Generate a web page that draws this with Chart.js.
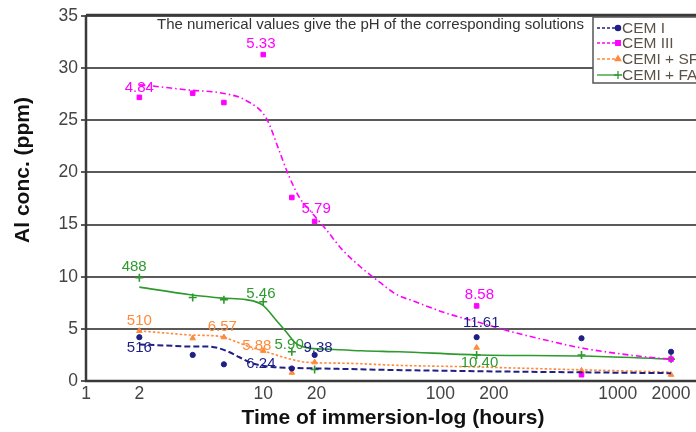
<!DOCTYPE html>
<html><head><meta charset="utf-8">
<script src="https://cdn.jsdelivr.net/npm/chart.js@4/dist/chart.umd.min.js"></script>
<style>
html,body{margin:0;padding:0;background:#fff;overflow:hidden;width:696px;height:432px}
#wrap{position:relative;width:760px;height:432px}
</style></head><body>
<div id="wrap"><canvas id="c" width="760" height="432"></canvas></div>
<script>
// ---- data ----
const seriesNames = ['CEM I', 'CEM III', 'CEMI + SF', 'CEMI + FA'];
const sampleHours = [2, 4, 6, 10, 14.5, 19.5, 160, 625, 2000];
const cemI   = [4.2, 2.5, 1.6, null, 1.2, 2.5, 4.2, 4.1, 2.8];
const cemIII = [27.2, 27.6, 26.7, 31.3, 17.6, 15.3, 7.2, 0.6, 2.1];
const cemSF  = [4.8, 4.1, 4.2, 2.9, 0.8, 1.8, 3.2, 1.0, 0.6];
const cemFA  = [9.9, 8.0, 7.8, 7.6, 2.8, 1.1, 2.5, 2.5, 2.1];

// fitted trend curves
const fitIHours   = [2, 2.83, 3.97, 4.95, 6.17, 7.3, 8.66, 11.2, 15.3, 20.7, 29.4, 56.4, 255, 2000];
const fitIValues  = [3.5, 3.4, 3.3, 3.3, 2.9, 2.3, 1.7, 1.35, 1.25, 1.2, 1.15, 1.05, 0.9, 0.75];
const fitIIIHours = [2, 2.33, 3.8, 5.9, 8, 10.4, 12.3, 13.7, 16, 18.9, 22.7, 27.9, 36.2, 45.2, 56.4, 69.5, 108, 166, 255, 397, 610, 937, 1460, 2000];
const fitIIIValues= [28.4, 28.3, 27.9, 27.6, 26.9, 25.2, 22.1, 20.0, 17.6, 16.1, 14.5, 12.6, 10.8, 9.5, 8.3, 7.7, 6.5, 5.6, 4.7, 3.9, 3.2, 2.7, 2.3, 2.1];
const fitSFHours  = [2, 2.83, 3.97, 5.6, 6.7, 8.0, 10.4, 13.5, 17.5, 29.4, 58, 160, 255, 2000];
const fitSFValues = [4.8, 4.6, 4.4, 4.3, 3.9, 3.4, 2.8, 2.2, 1.8, 1.7, 1.5, 1.35, 1.25, 0.85];
const fitFAHours  = [2, 3.8, 5.9, 8.0, 9.9, 11.8, 13.5, 15.3, 17.5, 23.6, 36.2, 58.6, 166, 625, 2000];
const fitFAValues = [9.0, 8.3, 7.95, 7.8, 7.3, 5.85, 4.7, 3.6, 3.2, 3.05, 2.9, 2.8, 2.5, 2.4, 2.1];

// pH labels: [hours, value, text, series index]
const phLabels = [
  [2, 28.1, '4.84', 1], [9.7, 32.3, '5.33', 1], [19.9, 16.5, '5.79', 1], [166, 8.25, '8.58', 1],
  [2, 3.15, '516', 0], [9.7, 1.6, '6.24', 0], [20.4, 3.15, '9.38', 0], [170, 5.55, '11.61', 0],
  [2, 5.75, '510', 2], [5.87, 5.2, '6.57', 2], [9.2, 3.35, '5.88', 2],
  [1.87, 10.9, '488', 3], [9.7, 8.35, '5.46', 3], [14.0, 3.45, '5.90', 3], [166, 1.7, '10.40', 3]
];

const xTicks = [1, 2, 10, 20, 100, 200, 1000, 2000];
const yTicks = [0, 5, 10, 15, 20, 25, 30, 35];
const note = 'The numerical values give the pH of the corresponding solutions';
const xTitle = 'Time of immersion-log (hours)';
const yTitle = 'Al conc. (ppm)';

// ---- styles ----
const colors = ['#1f1f85', '#ff00ff', '#ff8a3a', '#2e9a2e'];
const dashes = [[6, 3], [6, 3, 1.5, 3], [2.5, 2], []];
const widths = [2, 1.6, 1.6, 1.6];
const pStyles = ['circle', 'rect', 'triangle', 'cross'];
const pRadius = [2.6, 3.2, 3.2, 4];
const FONT = "'Liberation Sans', Arial, Helvetica, sans-serif";

const pts = (hs, vs) => hs.map((h, i) => ({x: h, y: vs[i]})).filter(p => p.y !== null);
const fits = [[fitIHours, fitIValues], [fitIIIHours, fitIIIValues], [fitSFHours, fitSFValues], [fitFAHours, fitFAValues]];
const raw = [cemI, cemIII, cemSF, cemFA];

const datasets = [];
fits.forEach((f, i) => datasets.push({
  label: seriesNames[i] + ' fit', data: pts(f[0], f[1]), showLine: true, pointRadius: 0,
  borderColor: colors[i], borderDash: dashes[i], borderWidth: widths[i], cubicInterpolationMode: 'monotone', fill: false
}));
raw.forEach((v, i) => datasets.push({
  label: seriesNames[i], data: pts(sampleHours, v), showLine: false,
  pointStyle: pStyles[i], pointRadius: pRadius[i], backgroundColor: colors[i], borderColor: colors[i], borderWidth: i === 3 ? 1.6 : 1
}));

const deco = {
  id: 'deco',
  beforeDatasetsDraw(chart) {
    const {ctx, chartArea: a} = chart;
    ctx.save();
    ctx.strokeStyle = '#3a3a3a';
    ctx.lineWidth = 2.5;
    ctx.beginPath();
    ctx.moveTo(a.left, a.top - 1); ctx.lineTo(a.right, a.top - 1);
    ctx.moveTo(a.left, a.top - 1); ctx.lineTo(a.left, a.bottom);
    ctx.lineTo(a.right, a.bottom);
    ctx.stroke();
    ctx.restore();
  },
  afterDatasetsDraw(chart) {
    const {ctx, chartArea: a, scales: {x, y}} = chart;
    ctx.save();
    // note
    ctx.fillStyle = '#333';
    ctx.font = '15px ' + FONT;
    ctx.textAlign = 'left'; ctx.textBaseline = 'middle';
    ctx.fillText(note, 157, a.top + 9);
    // pH labels
    ctx.font = '15px ' + FONT;
    ctx.textAlign = 'center';
    phLabels.forEach(([h, v, t, s]) => {
      ctx.fillStyle = colors[s];
      ctx.fillText(t, x.getPixelForValue(h), y.getPixelForValue(v));
    });
    // legend
    const lx = 593, ly = a.top + 1, lh = 66;
    ctx.fillStyle = '#fff';
    ctx.fillRect(lx, ly, 200, lh);
    ctx.strokeStyle = '#555'; ctx.lineWidth = 1.5;
    ctx.strokeRect(lx, ly, 200, lh);
    const rows = [28, 43, 59, 75];
    seriesNames.forEach((n, i) => {
      const ry = rows[i];
      ctx.strokeStyle = colors[i]; ctx.lineWidth = 1.3;
      ctx.setLineDash(dashes[i].length ? [3, 2] : []);
      ctx.beginPath(); ctx.moveTo(lx + 4, ry); ctx.lineTo(lx + 25, ry); ctx.stroke();
      ctx.setLineDash([]);
      Chart.helpers.drawPoint(ctx, {pointStyle: pStyles[i], radius: pRadius[i], borderWidth: 1.3}, lx + 25, ry);
      ctx.fillStyle = colors[i];
      ctx.fill();
      ctx.fillStyle = '#5c5248';
      ctx.font = '15.5px ' + FONT;
      ctx.textAlign = 'left';
      ctx.fillText(n, lx + 29, ry + 1);
    });
    // axis titles
    ctx.fillStyle = '#111';
    ctx.font = 'bold 21px ' + FONT;
    ctx.textAlign = 'center';
    ctx.fillText(xTitle, 393, 418);
    ctx.translate(23, 170);
    ctx.rotate(-Math.PI / 2);
    ctx.fillText(yTitle, 0, 0);
    ctx.restore();
  }
};

new Chart(document.getElementById('c'), {
  type: 'scatter',
  data: {datasets},
  options: {
    responsive: false, animation: false,
    layout: {padding: {top: 16, right: 20, left: 0, bottom: 0}},
    plugins: {legend: {display: false}, tooltip: {enabled: false}},
    scales: {
      x: {
        type: 'logarithmic', min: 1, max: 4900,
        afterFit(s) { s.height = 51; },
        afterBuildTicks(s) { s.ticks = xTicks.map(v => ({value: v})); },
        ticks: {autoSkip: false, maxRotation: 0, minRotation: 0, color: '#444', padding: 3,
          font: {family: FONT, size: 17.5}, callback: (v) => xTicks.includes(v) ? String(v) : ''},
        grid: {display: false, drawTicks: false},
        border: {display: false}
      },
      y: {
        min: 0, max: 35,
        afterFit(s) { s.width = 86; },
        afterBuildTicks(s) { s.ticks = yTicks.map(v => ({value: v})); },
        ticks: {color: '#444', padding: 3, font: {family: FONT, size: 17.5}},
        grid: {color: '#5a5a5a', lineWidth: 2, tickLength: 5},
        border: {display: false}
      }
    }
  },
  plugins: [deco]
});
</script>
</body></html>
